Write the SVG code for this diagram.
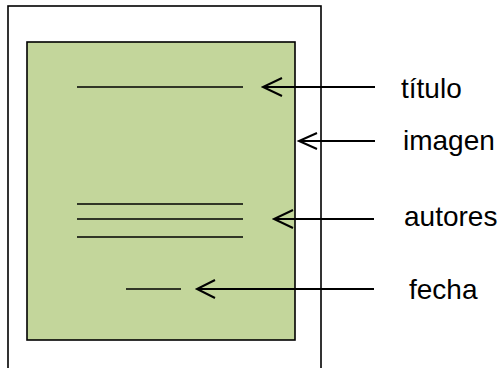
<svg xmlns="http://www.w3.org/2000/svg" width="503" height="368" viewBox="0 0 503 368">
<style>
.ln{stroke:#000;stroke-width:1.6;fill:none}
.ar{stroke:#000;stroke-width:2;fill:none}
.lb{font-family:"Liberation Sans",Arial,sans-serif;font-size:28px;fill:#000}
</style>
<rect width="503" height="368" fill="#fff"/>
<g id="page">
<rect x="8" y="6" width="313" height="370" fill="#fff" stroke="#000" stroke-width="1.6"/>
</g>
<g id="image">
<rect x="27" y="42" width="268" height="298" fill="#C3D69B" stroke="#000" stroke-width="1.6"/>
</g>
<g id="title-line"><line class="ln" x1="77" y1="87" x2="243" y2="87"/></g>
<g id="author-lines">
<line class="ln" x1="77" y1="204" x2="243" y2="204"/>
<line class="ln" x1="77" y1="219" x2="243" y2="219"/>
<line class="ln" x1="77" y1="237" x2="243" y2="237"/>
</g>
<g id="date-line"><line class="ln" x1="126" y1="289" x2="181" y2="289"/></g>
<g id="connectors">
<path class="ar" d="M375 87H263M282 78L263 87L282 96"/>
<path class="ar" d="M375 141H299M317 133L299 141L317 149"/>
<path class="ar" d="M374 219H274M293 210L274 219L293 228"/>
<path class="ar" d="M374 289H197M215 280L197 289L215 298"/>
</g>
<g id="labels">
<text class="lb" x="401" y="98">título</text>
<text class="lb" x="403" y="150">imagen</text>
<text class="lb" x="404" y="226">autores</text>
<text class="lb" x="409" y="299">fecha</text>
</g>
</svg>
